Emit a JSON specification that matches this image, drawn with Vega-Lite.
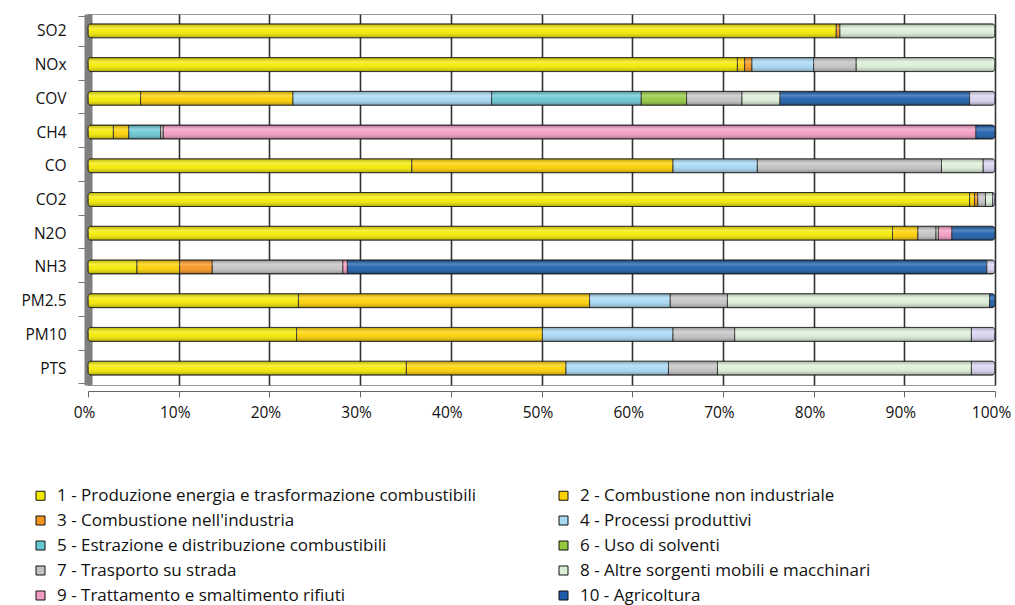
{
  "$schema": "https://vega.github.io/schema/vega-lite/v6.json",
  "autosize": "none",
  "width": 907,
  "height": 371,
  "padding": {"left": 88, "top": 14, "right": 20, "bottom": 220},
  "background": "white",
  "config": {
    "font": "Open Sans",
    "view": {"stroke": "#9a9a9a", "strokeWidth": 1}
  },
  "datasets": {
    "sectors": [
      {"n": 1, "s": "1 - Produzione energia e trasformazione combustibili"},
      {"n": 2, "s": "2 - Combustione non industriale"},
      {"n": 3, "s": "3 - Combustione nell'industria"},
      {"n": 4, "s": "4 - Processi produttivi"},
      {"n": 5, "s": "5 - Estrazione e distribuzione combustibili"},
      {"n": 6, "s": "6 - Uso di solventi"},
      {"n": 7, "s": "7 - Trasporto su strada"},
      {"n": 8, "s": "8 - Altre sorgenti mobili e macchinari"},
      {"n": 9, "s": "9 - Trattamento e smaltimento rifiuti"},
      {"n": 10, "s": "10 - Agricoltura"},
      {"n": 11, "s": "11 - Altre sorgenti e assorbimenti"}
    ],
    "emissions": [
      {"g": "SO2", "n": 1, "v": 82.5}, {"g": "SO2", "n": 3, "v": 0.4}, {"g": "SO2", "n": 8, "v": 17.1},
      {"g": "NOx", "n": 1, "v": 71.6}, {"g": "NOx", "n": 2, "v": 0.8}, {"g": "NOx", "n": 3, "v": 0.8},
      {"g": "NOx", "n": 4, "v": 6.8}, {"g": "NOx", "n": 7, "v": 4.7}, {"g": "NOx", "n": 8, "v": 15.3},
      {"g": "COV", "n": 1, "v": 5.8}, {"g": "COV", "n": 2, "v": 16.8}, {"g": "COV", "n": 4, "v": 21.9},
      {"g": "COV", "n": 5, "v": 16.5}, {"g": "COV", "n": 6, "v": 5.0}, {"g": "COV", "n": 7, "v": 6.1},
      {"g": "COV", "n": 8, "v": 4.2}, {"g": "COV", "n": 10, "v": 20.9}, {"g": "COV", "n": 11, "v": 2.8},
      {"g": "CH4", "n": 1, "v": 2.8}, {"g": "CH4", "n": 2, "v": 1.7}, {"g": "CH4", "n": 5, "v": 3.5},
      {"g": "CH4", "n": 7, "v": 0.3}, {"g": "CH4", "n": 9, "v": 89.6}, {"g": "CH4", "n": 10, "v": 2.1},
      {"g": "CO", "n": 1, "v": 35.7}, {"g": "CO", "n": 2, "v": 28.8}, {"g": "CO", "n": 4, "v": 9.3},
      {"g": "CO", "n": 7, "v": 20.3}, {"g": "CO", "n": 8, "v": 4.6}, {"g": "CO", "n": 11, "v": 1.3},
      {"g": "CO2", "n": 1, "v": 97.2}, {"g": "CO2", "n": 2, "v": 0.55}, {"g": "CO2", "n": 3, "v": 0.35},
      {"g": "CO2", "n": 7, "v": 0.85}, {"g": "CO2", "n": 8, "v": 0.8}, {"g": "CO2", "n": 11, "v": 0.25},
      {"g": "N2O", "n": 1, "v": 88.7}, {"g": "N2O", "n": 2, "v": 2.8}, {"g": "N2O", "n": 7, "v": 2.0},
      {"g": "N2O", "n": 8, "v": 0.25}, {"g": "N2O", "n": 9, "v": 1.5}, {"g": "N2O", "n": 10, "v": 4.75},
      {"g": "NH3", "n": 1, "v": 5.4}, {"g": "NH3", "n": 2, "v": 4.7}, {"g": "NH3", "n": 3, "v": 3.6},
      {"g": "NH3", "n": 7, "v": 14.4}, {"g": "NH3", "n": 9, "v": 0.5}, {"g": "NH3", "n": 10, "v": 70.5},
      {"g": "NH3", "n": 11, "v": 0.9},
      {"g": "PM2.5", "n": 1, "v": 23.2}, {"g": "PM2.5", "n": 2, "v": 32.1}, {"g": "PM2.5", "n": 4, "v": 8.9},
      {"g": "PM2.5", "n": 7, "v": 6.3}, {"g": "PM2.5", "n": 8, "v": 28.9}, {"g": "PM2.5", "n": 10, "v": 0.6},
      {"g": "PM10", "n": 1, "v": 23.0}, {"g": "PM10", "n": 2, "v": 27.1}, {"g": "PM10", "n": 4, "v": 14.4},
      {"g": "PM10", "n": 7, "v": 6.8}, {"g": "PM10", "n": 8, "v": 26.1}, {"g": "PM10", "n": 11, "v": 2.6},
      {"g": "PTS", "n": 1, "v": 35.1}, {"g": "PTS", "n": 2, "v": 17.6}, {"g": "PTS", "n": 4, "v": 11.3},
      {"g": "PTS", "n": 7, "v": 5.4}, {"g": "PTS", "n": 8, "v": 28.0}, {"g": "PTS", "n": 11, "v": 2.6}
    ]
  },
  "data": {"name": "emissions"},
  "transform": [
    {"lookup": "n", "from": {"data": {"name": "sectors"}, "key": "n", "fields": ["s"]}}
  ],
  "encoding": {
    "y": {
      "field": "g",
      "type": "nominal",
      "sort": ["SO2", "NOx", "COV", "CH4", "CO", "CO2", "N2O", "NH3", "PM2.5", "PM10", "PTS"],
      "title": null,
      "axis": {
        "labelFontSize": 15.5,
        "labelColor": "#111",
        "labelPadding": 12,
        "tickBand": "extent",
        "tickSize": 10,
        "tickColor": "#777",
        "domainColor": "#7f7f7f",
        "domainWidth": 8
      }
    },
    "x": {
      "aggregate": "sum",
      "field": "v",
      "type": "quantitative",
      "stack": "normalize",
      "title": null,
      "scale": {"domain": [0, 1], "nice": false},
      "axis": {
        "values": [0, 0.1, 0.2, 0.3, 0.4, 0.5, 0.6, 0.7, 0.8, 0.9, 1],
        "format": ".0%",
        "labelFontSize": 15.5,
        "labelColor": "#111",
        "labelPadding": 8,
        "labelOffset": -4,
        "labelFlush": false,
        "labelOverlap": false,
        "offset": 6,
        "grid": true,
        "gridColor": "#333333",
        "gridWidth": 1.6,
        "domainColor": "#666",
        "tickColor": "#666",
        "tickSize": 6
      }
    },
    "order": {"field": "n", "type": "quantitative"}
  },
  "layer": [
    {
      "mark": {"type": "bar", "height": 14, "cornerRadius": 3, "stroke": "#1e1e1e", "strokeWidth": 0.9},
      "encoding": {
        "color": {
          "field": "s",
          "type": "nominal",
          "title": null,
          "scale": {
            "domain": [
              "1 - Produzione energia e trasformazione combustibili",
              "2 - Combustione non industriale",
              "3 - Combustione nell'industria",
              "4 - Processi produttivi",
              "5 - Estrazione e distribuzione combustibili",
              "6 - Uso di solventi",
              "7 - Trasporto su strada",
              "8 - Altre sorgenti mobili e macchinari",
              "9 - Trattamento e smaltimento rifiuti",
              "10 - Agricoltura",
              "11 - Altre sorgenti e assorbimenti"
            ],
            "range": ["#f4ea00", "#fdd000", "#f7941d", "#a7d8f4", "#68c7d4", "#93c83e", "#c3c3c3", "#dcefd7", "#f39bc2", "#1c5eab", "#d7d3f0"]
          },
          "legend": {
            "values": [
              "1 - Produzione energia e trasformazione combustibili",
              "2 - Combustione non industriale",
              "3 - Combustione nell'industria",
              "4 - Processi produttivi",
              "5 - Estrazione e distribuzione combustibili",
              "6 - Uso di solventi",
              "7 - Trasporto su strada",
              "8 - Altre sorgenti mobili e macchinari",
              "9 - Trattamento e smaltimento rifiuti",
              "10 - Agricoltura"
            ],
            "orient": "none",
            "direction": "horizontal",
            "legendX": -56,
            "legendY": 473,
            "columns": 2,
            "columnPadding": 78,
            "rowPadding": 7,
            "padding": 0,
            "labelLimit": 600,
            "labelFontSize": 17,
            "labelColor": "#111",
            "labelOffset": 8,
            "symbolType": "square",
            "symbolSize": 81,
            "symbolStrokeColor": "#111",
            "symbolStrokeWidth": 1,
            "symbolOpacity": 1
          }
        }
      }
    },
    {
      "mark": {
        "type": "bar",
        "height": 14,
        "cornerRadius": 3,
        "fill": {
          "gradient": "linear",
          "x1": 0, "y1": 0, "x2": 0, "y2": 1,
          "stops": [
            {"offset": 0, "color": "rgba(0,0,0,0.22)"},
            {"offset": 0.3, "color": "rgba(255,255,255,0.25)"},
            {"offset": 0.55, "color": "rgba(255,255,255,0.05)"},
            {"offset": 1, "color": "rgba(0,0,0,0.3)"}
          ]
        }
      },
      "encoding": {
        "detail": {"field": "s", "type": "nominal"}
      }
    }
  ]
}
